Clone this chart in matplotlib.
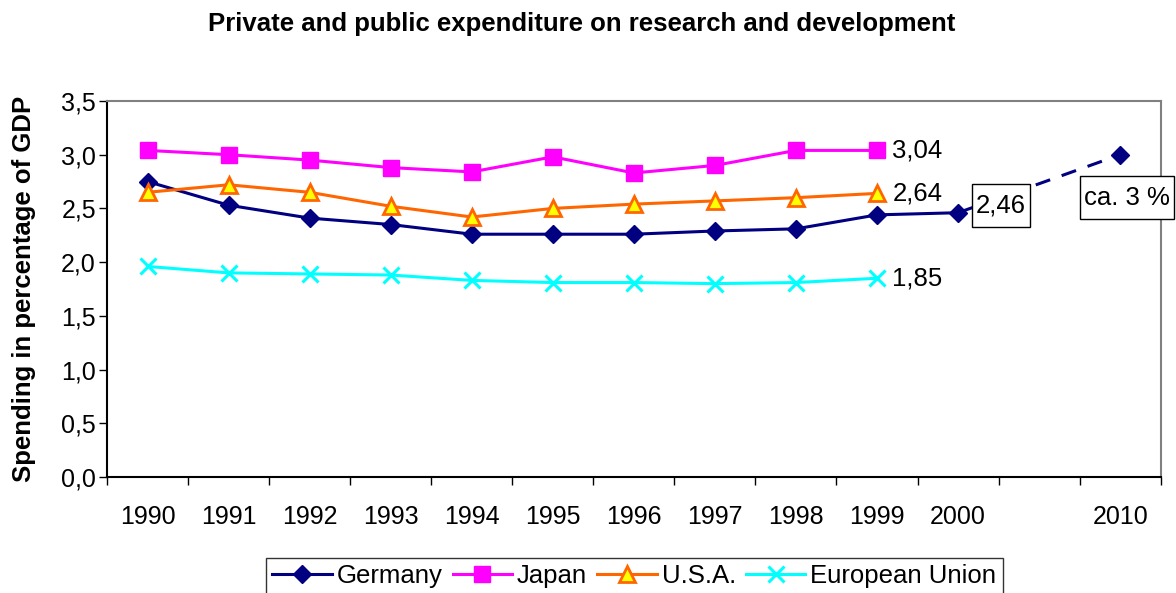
import numpy as np
import matplotlib.pyplot as plt

plt.rcParams['font.family'] = ['Liberation Sans', 'DejaVu Sans']

years = ['1990', '1991', '1992', '1993', '1994', '1995', '1996', '1997',
         '1998', '1999', '2000', '', '2010']
germany = [2.75, 2.53, 2.41, 2.35, 2.26, 2.26, 2.26, 2.29, 2.31, 2.44, 2.46]
germany_goal = 3.0
japan = [3.04, 3.00, 2.95, 2.88, 2.84, 2.98, 2.83, 2.90, 3.04, 3.04]
usa = [2.65, 2.72, 2.65, 2.52, 2.42, 2.50, 2.54, 2.57, 2.60, 2.64]
eu = [1.96, 1.90, 1.89, 1.88, 1.83, 1.81, 1.81, 1.80, 1.81, 1.85]
y_ticks = [0.0, 0.5, 1.0, 1.5, 2.0, 2.5, 3.0, 3.5]

navy = '#000080'
magenta = '#FF00FF'
orange = '#FF6600'
cyan = '#00FFFF'

fig = plt.figure(figsize=(11.76, 5.93), dpi=100)
ax = fig.add_axes([0.091, 0.1956, 0.896, 0.6341])

x = np.arange(len(years))
goal_pos = years.index('2010')

ax.plot(x[:len(germany)], germany, color=navy, lw=2.2, marker='D', ms=9,
        mfc=navy, mec=navy, label='Germany', zorder=3)
ax.plot([x[len(germany) - 1], goal_pos], [germany[-1], germany_goal],
        color=navy, lw=2.2, ls=(0, (5, 4)), zorder=2)
ax.plot([goal_pos], [germany_goal], color=navy, marker='D', ms=9, ls='none',
        zorder=3)
ax.plot(x[:len(japan)], japan, color=magenta, lw=2.2, marker='s', ms=11,
        mfc=magenta, mec=magenta, label='Japan', zorder=3)
ax.plot(x[:len(usa)], usa, color=orange, lw=2.2, marker='^', ms=11,
        mfc='#FFFF00', mec=orange, mew=2, label='U.S.A.', zorder=3)
ax.plot(x[:len(eu)], eu, color=cyan, lw=2.2, marker='x', ms=12, mew=2.2,
        label='European Union', zorder=3)

fmt = lambda v: ('%.2f' % v).replace('.', ',')
for series in (japan, usa, eu):
    ax.annotate(fmt(series[-1]), (x[len(series) - 1], series[-1]),
                xytext=(11, 0), textcoords='offset points', fontsize=18.5,
                va='center', ha='left', zorder=5)

# Excel-like data label box: tight sides, taller top/bottom
box = dict(boxstyle='square,pad=0.16', mutation_aspect=2.3,
           fc='white', ec='black', lw=1)
ax.annotate(fmt(germany[-1]), (x[len(germany) - 1], germany[-1]),
            xytext=(31, 5), textcoords='offset points', fontsize=18.5,
            va='center', ha='center', bbox=box, zorder=5)
ax.annotate('ca. 3 %', (goal_pos, germany_goal),
            xytext=(5, -31), textcoords='offset points', fontsize=18.5,
            va='center', ha='center', bbox=box, zorder=5,
            annotation_clip=False)

ax.set_xlim(-0.5, len(years) - 0.5)
ax.set_ylim(0, 3.5)
ax.set_yticks(y_ticks)
ax.set_yticklabels([('%.1f' % t).replace('.', ',') for t in y_ticks])
ax.set_xticks(x)
ax.set_xticklabels(years)
ax.set_xticks(np.arange(-0.5, len(years)), minor=True)
ax.tick_params(axis='x', which='major', length=0, pad=20, labelsize=18)
ax.tick_params(axis='x', which='minor', length=6, width=1, direction='out')
ax.tick_params(axis='y', length=6, width=1, direction='out', pad=2,
               labelsize=18)

ax.spines['left'].set_color('black')
ax.spines['bottom'].set_color('black')
ax.spines['top'].set_color('#808080')
ax.spines['right'].set_color('#808080')
for s in ax.spines.values():
    s.set_linewidth(1.5)

ax.set_ylabel('Spending in percentage of GDP', fontsize=18.5,
              fontweight='bold', labelpad=18)
fig.text(0.495, 0.96, 'Private and public expenditure on research and development',
         fontsize=18.5, fontweight='bold', ha='center', va='center')

leg = fig.legend(loc='upper center', bbox_to_anchor=(0.5395, 0.059), ncol=4,
                 fontsize=18.5, frameon=True, fancybox=False, edgecolor='black',
                 handlelength=2.3, handletextpad=0.2, columnspacing=0.4,
                 borderpad=0.25, borderaxespad=0)
leg.get_frame().set_linewidth(1)

fig.savefig('out.png', dpi=100)
